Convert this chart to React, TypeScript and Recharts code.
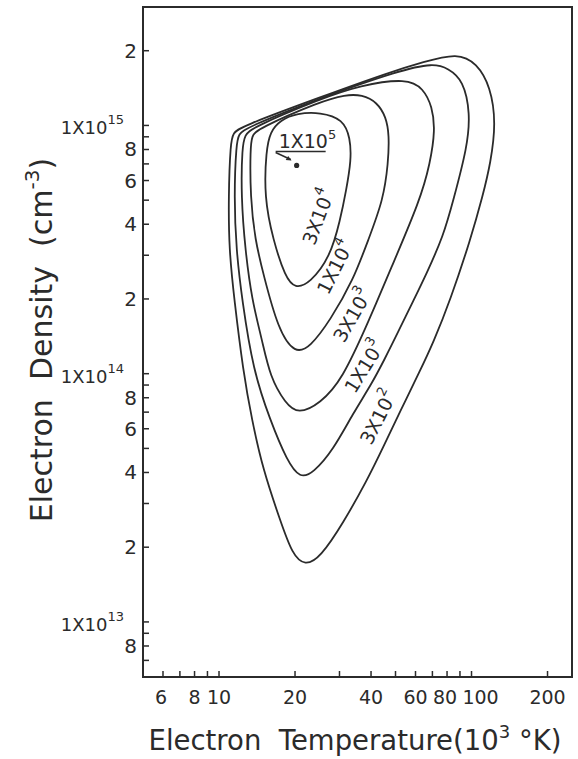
import React from 'react';
import { ComposedChart, Line, XAxis, YAxis, ReferenceArea, ReferenceDot, Scatter } from 'recharts';

const INK = '#2b2b2b';
const FONT = '"DejaVu Sans", sans-serif';

// electron temperature (10^3 K) ticks, log axis
const xTicks = [6, 7, 8, 9, 10, 20, 30, 40, 50, 60, 70, 80, 90, 100, 200];
const xLabeled = [6, 8, 10, 20, 40, 60, 80, 100, 200];

// electron density (cm^-3) ticks, log axis
const yTicks = [
  7e12, 8e12, 9e12, 1e13,
  2e13, 3e13, 4e13, 5e13, 6e13, 7e13, 8e13, 9e13, 1e14,
  2e14, 3e14, 4e14, 5e14, 6e14, 7e14, 8e14, 9e14, 1e15,
  2e15,
];
const yLabeled = [8e12, 1e13, 2e13, 4e13, 6e13, 8e13, 1e14, 2e14, 4e14, 6e14, 8e14, 1e15, 2e15];

// contour curves [T, Ne], traced clockwise from the bottom minimum
const c3e2 = [
  [21.9, 1.68e13], [25.2, 1.82e13], [31.0, 2.5e13], [38.6, 3.72e13], [44.7, 5.06e13],
  [52.2, 7.06e13], [62.6, 1.03e14], [70.5, 1.33e14], [82.4, 1.98e14], [98.9, 3.45e14],
  [111, 5.24e14], [119, 7.06e14], [125, 1.02e15], [119, 1.43e15], [105, 1.78e15],
  [88, 1.96e15], [64.4, 1.8e15], [47.6, 1.64e15], [25.2, 1.3e15], [12.1, 9.85e14],
  [11.4, 9.32e14], [11.1, 8.57e14], [10.9, 5.15e14], [10.96, 3.15e14], [11.5, 1.98e14],
  [12.45, 1.03e14], [13.5, 6.5e13], [14.95, 4.09e13], [17.46, 2.57e13], [19.5, 1.87e13],
];
const c1e3 = [
  [20.95, 3.78e13], [23.6, 3.98e13], [28.3, 4.92e13], [34.0, 6.94e13], [40.0, 9.0e13],
  [45.4, 1.15e14], [51.0, 1.46e14], [59.0, 1.98e14], [66.0, 2.5e14], [77.5, 3.6e14],
  [84.7, 5.0e14], [96.2, 8.18e14], [98.9, 1.12e15], [92.8, 1.52e15], [80.9, 1.7e15],
  [70.5, 1.78e15], [52.2, 1.67e15], [25.2, 1.29e15], [12.7, 9.76e14], [12.0, 9.23e14],
  [11.7, 8.49e14], [11.47, 5.15e14], [11.7, 3.15e14], [12.34, 1.98e14], [13.65, 1.03e14],
  [15.94, 6.5e13], [18.6, 4.45e13],
];
const c3e3 = [
  [20.6, 6.85e13], [25.2, 7.61e13], [30.7, 9.42e13], [39.3, 1.64e14], [47.6, 2.61e14],
  [62.6, 5.0e14], [68.6, 7.06e14], [71.8, 9.58e14], [69.9, 1.19e15], [64.4, 1.41e15],
  [55.6, 1.55e15], [36.2, 1.45e15], [25.2, 1.28e15], [13.4, 9.76e14], [12.7, 9.15e14],
  [12.34, 8.26e14], [12.23, 5.15e14], [12.7, 3.15e14], [13.5, 1.98e14], [14.8, 1.37e14],
  [15.94, 9.68e13], [18.3, 7.61e13],
];
const c1e4 = [
  [20.0, 1.2e14], [22.96, 1.28e14], [27.55, 1.64e14], [34.0, 2.38e14], [38.97, 3.45e14],
  [44.7, 5.0e14], [46.8, 7.06e14], [47.2, 9.15e14], [45.9, 1.08e15], [42.3, 1.24e15],
  [36.9, 1.33e15], [31.6, 1.33e15], [25.2, 1.25e15], [14.15, 9.67e14], [13.5, 9.06e14],
  [13.3, 8.11e14], [13.3, 5.15e14], [13.9, 3.45e14], [14.95, 2.54e14], [17.15, 1.5e14],
];
const c3e4 = [
  [20.0, 2.2e14], [22.96, 2.32e14], [27.55, 2.95e14], [30.2, 4.16e14], [31.9, 5.49e14],
  [33.4, 7.26e14], [33.1, 8.9e14], [31.0, 1.06e15], [25.2, 1.13e15], [20.4, 1.12e15],
  [17.46, 1.05e15], [15.94, 9.41e14], [15.37, 7.95e14], [15.09, 5.15e14], [16.38, 3.45e14],
  [18.3, 2.45e14],
];

const curves = [c3e2, c1e3, c3e3, c1e4, c3e4];

// inline contour labels
const curveLabels = [
  { t: 42.7, n: 6.68e13, base: '3X10', exp: '2', angle: -63 },
  { t: 37.6, n: 1.07e14, base: '1X10', exp: '3', angle: -58 },
  { t: 33.7, n: 1.72e14, base: '3X10', exp: '3', angle: -60 },
  { t: 28.8, n: 2.69e14, base: '1X10', exp: '4', angle: -63 },
  { t: 24.7, n: 4.28e14, base: '3X10', exp: '4', angle: -69 },
];

// peak point (1X10^5)
const peak = { t: 20.3, n: 6.9e14 };

const toPts = (c: number[][]) => c.map(([t, n]) => ({ t, n }));

function XTick({ x, y, payload }: any) {
  const v = payload.value;
  const dx = v === 100 ? 9 : v === 80 ? -2 : v === 6 ? -2 : 0;
  return (
    <g>
      <line x1={x} y1={y} x2={x} y2={y - 6} stroke={INK} strokeWidth={1.5} />
      {xLabeled.includes(v) && (
        <text x={x + dx} y={y + 27} textAnchor="middle" fontSize={19} fontFamily={FONT} fill={INK}>
          {v}
        </text>
      )}
    </g>
  );
}

function YTick({ x, y, payload }: any) {
  const v = payload.value;
  const exp = Math.floor(Math.log10(v) + 1e-9);
  const digit = Math.round(v / Math.pow(10, exp));
  return (
    <g>
      <line x1={x} y1={y} x2={x + 6} y2={y} stroke={INK} strokeWidth={1.5} />
      {yLabeled.includes(v) &&
        (digit === 1 ? (
          <text x={x - 19} y={y + 9} textAnchor="end" fontSize={18} fontFamily={FONT} fill={INK}>
            1X10<tspan dy={-10} fontSize={13}>{exp}</tspan>
          </text>
        ) : (
          <text x={x - 6} y={y + 7} textAnchor="end" fontSize={20} fontFamily={FONT} fill={INK}>
            {digit}
          </text>
        ))}
    </g>
  );
}

function CurveLabel({ cx, cy, payload }: any) {
  return (
    <text
      x={cx}
      y={cy}
      transform={`rotate(${payload.angle} ${cx} ${cy})`}
      textAnchor="middle"
      dominantBaseline="central"
      fontSize={19}
      fontFamily={FONT}
      fill={INK}
    >
      {payload.base}
      <tspan dy={-9} fontSize={13}>{payload.exp}</tspan>
    </text>
  );
}

function PeakMark({ cx, cy }: any) {
  return (
    <g>
      <circle cx={cx} cy={cy} r={2.6} fill={INK} />
      <text x={cx - 18} y={cy - 17} fontSize={19} fontFamily={FONT} fill={INK}>
        1X10<tspan dy={-9} fontSize={13}>5</tspan>
      </text>
      <line x1={cx - 21} y1={cy - 14} x2={cx + 29} y2={cy - 14} stroke={INK} strokeWidth={1.5} />
      <line x1={cx - 21} y1={cy - 13} x2={cx - 6} y2={cy - 6} stroke={INK} strokeWidth={1.5} />
      <path d={`M${cx - 5} ${cy - 5} l-6 -0.5 l2.5 -4 z`} fill={INK} />
    </g>
  );
}

function XTitle({ viewBox }: any) {
  return (
    <text x={355} y={viewBox.y + 73} textAnchor="middle" fontSize={27.5} fontFamily={FONT} fill={INK} style={{ whiteSpace: 'pre' }}>
      Electron  Temperature(10<tspan dy={-12} fontSize={18}>3</tspan>
      <tspan dy={12}> °K)</tspan>
    </text>
  );
}

function YTitle() {
  const x = 52;
  const y = 340;
  return (
    <text
      x={x}
      y={y}
      transform={`rotate(-90 ${x} ${y})`}
      textAnchor="middle"
      fontSize={30}
      fontFamily={FONT}
      fill={INK}
      style={{ whiteSpace: 'pre' }}
    >
      Electron  Density  (cm<tspan dy={-13} fontSize={20}>-3</tspan>
      <tspan dy={13}>)</tspan>
    </text>
  );
}

export default function App() {
  return (
    <div style={{ position: 'absolute', left: 0, top: 0, width: 578, height: 759, background: '#fff' }}>
      <ComposedChart width={578} height={759} margin={{ top: 7, right: 6, bottom: 0, left: 0 }}>
        <XAxis
          dataKey="t"
          type="number"
          scale="log"
          domain={[5, 250]}
          allowDataOverflow
          ticks={xTicks}
          interval={0}
          tickSize={0}
          tickMargin={0}
          tickLine={false}
          axisLine={false}
          height={82}
          tick={<XTick />}
          label={{ content: <XTitle /> }}
        />
        <YAxis
          dataKey="n"
          type="number"
          scale="log"
          domain={[6e12, 3e15]}
          allowDataOverflow
          ticks={yTicks}
          interval={0}
          tickSize={0}
          tickMargin={0}
          tickLine={false}
          axisLine={false}
          width={143}
          tick={<YTick />}
          label={{ content: <YTitle /> }}
        />
        <ReferenceArea x1={5} x2={250} y1={6e12} y2={3e15} fill="none" stroke={INK} strokeWidth={2} />
        {curves.map((c, i) => (
          <Line
            key={i}
            data={toPts(c)}
            dataKey="n"
            type="basisClosed"
            stroke={INK}
            strokeWidth={1.8}
            dot={false}
            activeDot={false}
            isAnimationActive={false}
          />
        ))}
        <Scatter data={curveLabels} dataKey="n" shape={<CurveLabel />} isAnimationActive={false} />
        <ReferenceDot x={peak.t} y={peak.n} shape={<PeakMark />} />
      </ComposedChart>
    </div>
  );
}
